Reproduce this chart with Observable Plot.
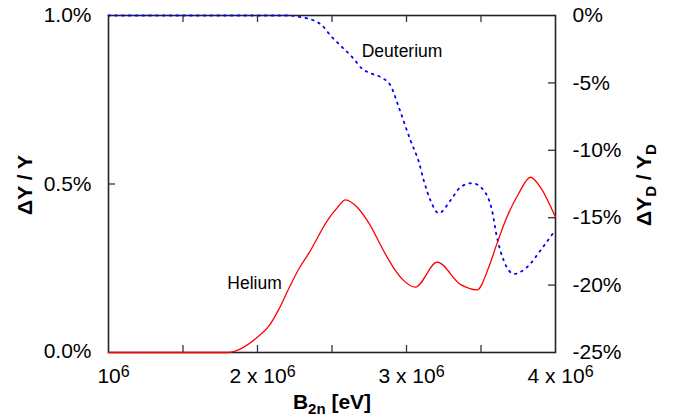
<!DOCTYPE html>
<html>
<head>
<meta charset="utf-8">
<script src="https://cdn.jsdelivr.net/npm/d3@7"></script>
<script src="https://cdn.jsdelivr.net/npm/@observablehq/plot@0.6"></script>
<style>
  html, body { margin: 0; padding: 0; background: #fff; }
  #chart svg { display: block; font-family: "Liberation Sans", Arial, Helvetica, sans-serif; }
</style>
</head>
<body>
<div id="chart"></div>
<script>
// ---- data ----
const xTickValues = [1e6, 2e6, 3e6, 4e6];
const xTickMarks = [1.5e6, 2e6, 2.5e6, 3e6, 3.5e6];
const leftTickValues = [0, 0.5, 1.0];          // ΔY/Y in %
const rightTickValues = [0, -5, -10, -15, -20, -25]; // ΔY_D/Y_D in %

const heliumB = [1.0e6, 1.5e6, 1.8e6, 1.85e6, 1.908e6, 1.998e6, 2.076e6, 2.143e6, 2.21e6, 2.28e6, 2.344e6, 2.47e6, 2.536e6, 2.59e6, 2.669e6, 2.736e6, 2.87e6, 2.926e6, 2.98e6, 3.06e6, 3.206e6, 3.362e6, 3.474e6, 3.552e6, 3.607e6, 3.674e6, 3.752e6, 3.832e6, 3.899e6, 4.0e6];
const heliumDY = [0, 0, 0, 0.004, 0.016, 0.045, 0.078, 0.128, 0.19, 0.25, 0.294, 0.392, 0.43, 0.453, 0.431, 0.392, 0.283, 0.243, 0.214, 0.194, 0.268, 0.202, 0.186, 0.253, 0.323, 0.402, 0.471, 0.520, 0.49, 0.401];

const deutB = [1.0e6, 2.2e6, 2.289e6, 2.378e6, 2.434e6, 2.49e6, 2.557e6, 2.636e6, 2.703e6, 2.77e6, 2.848e6, 2.893e6, 2.948e6, 3.027e6, 3.083e6, 3.116e6, 3.161e6, 3.217e6, 3.295e6, 3.362e6, 3.44e6, 3.519e6, 3.574e6, 3.607e6, 3.653e6, 3.72e6, 3.809e6, 3.899e6, 4.0e6];
const deutDY = [0, 0, -0.12, -0.37, -0.74, -1.48, -2.23, -3.09, -3.96, -4.33, -4.70, -5.19, -6.80, -9.27, -10.88, -12.24, -13.72, -14.67, -13.72, -12.74, -12.44, -12.98, -14.47, -16.45, -18.18, -19.17, -18.67, -17.43, -15.9];

const heliumLabel = [{text: "Helium", b: 1.98e6, v: 0.204}];
const deutLabel = [{text: "Deuterium", b: 2.97e6, v: -2.63}];

// ---- mapping the right axis (0% .. -25%) onto the left domain (1.0% .. 0.0%) ----
const rightToLeft = d => 1 + d / 25;

const helium = heliumB.map((b, i) => ({b, y: heliumDY[i]}));
const deut = deutB.map((b, i) => ({b, y: rightToLeft(deutDY[i])}));

const W = 673, H = 418;
const mL = 108, mR = 118, mT = 15, mB = 66;
const innerW = W - mL - mR, innerH = H - mT - mB;
const tickLen = 7;
const font = "\"Liberation Sans\", Arial, Helvetica, sans-serif";

const chart = Plot.plot({
  width: W, height: H,
  marginLeft: mL, marginRight: mR, marginTop: mT, marginBottom: mB,
  style: {fontFamily: font, fontSize: "21px", color: "#000", background: "#fff"},
  x: {type: "linear", domain: [1e6, 4e6]},
  y: {domain: [0, 1]},
  marks: [
    // frame
    Plot.frame({stroke: "#222", strokeWidth: 1.6}),
    // inward tick marks
    Plot.tickX(xTickMarks, {x: d => d, insetTop: innerH - tickLen, stroke: "#333", strokeWidth: 1.3}),
    Plot.tickX(xTickMarks, {x: d => d, insetBottom: innerH - tickLen, stroke: "#333", strokeWidth: 1.3}),
    Plot.tickY(leftTickValues.filter(v => v > 0 && v < 1), {y: d => d, insetRight: innerW - tickLen, stroke: "#333", strokeWidth: 1.3}),
    Plot.tickY(rightTickValues.filter(v => v < 0 && v > -25), {y: d => rightToLeft(d), insetLeft: innerW - tickLen, stroke: "#333", strokeWidth: 1.3}),
    // axes (labels only)
    Plot.axisX(xTickValues, {
      anchor: "bottom", tickSize: 0, tickPadding: 16,
      tickFormat: d => d === 1e6 ? "10" : `${d / 1e6} x 10`, label: null, fontSize: 21
    }),
    Plot.axisY(leftTickValues, {
      anchor: "left", tickSize: 0, tickPadding: 17,
      tickFormat: d => d.toFixed(1) + "%", label: null, fontSize: 21
    }),
    Plot.axisY(rightTickValues.map(rightToLeft), {
      anchor: "right", tickSize: 0, tickPadding: 17,
      tickFormat: d => `${Math.round((d - 1) * 25)}%`, label: null, fontSize: 21
    }),
    // curves
    Plot.line(deut, {x: "b", y: "y", stroke: "#0000ff", strokeWidth: 1.8, strokeDasharray: "1.6,5.2", curve: "monotone-x"}),
    Plot.line(helium, {x: "b", y: "y", stroke: "#ff0000", strokeWidth: 1.3, curve: "monotone-x"}),
    // curve labels
    Plot.text(heliumLabel, {x: "b", y: "v", text: "text", fontSize: 17.5, fill: "#000"}),
    Plot.text(deutLabel, {x: "b", y: d => rightToLeft(d.v), text: "text", fontSize: 17.5, fill: "#000"})
  ]
});

// superscript "6" on x tick labels
d3.select(chart).selectAll('g[aria-label="x-axis tick label"] text').each(function() {
  const t = d3.select(this);
  const base = t.text();
  t.text(null);
  t.append("tspan").text(base);
  t.append("tspan").attr("font-size", 16).attr("dy", "-0.42em").text("6");
  t.attr("dx", 5);
});
// shift "0.0%" slightly up, as in the reference
d3.select(chart).selectAll('g[aria-label="y-axis tick label"] text').each(function() {
  const t = d3.select(this);
  if (t.text() === "0.0%") t.attr("dy", "-0.05em");
});

const svg = d3.select(chart);
// left axis title
svg.append("text")
  .attr("transform", "translate(32,185) rotate(-90)")
  .attr("text-anchor", "middle").attr("font-weight", "bold").attr("font-size", 21)
  .attr("font-family", font)
  .text("\u0394Y / Y");
// right axis title
const rt = svg.append("text")
  .attr("transform", "translate(651,185) rotate(-90)")
  .attr("text-anchor", "middle").attr("font-weight", "bold").attr("font-size", 21)
  .attr("font-family", font);
rt.append("tspan").text("\u0394Y");
rt.append("tspan").attr("font-size", 15).attr("dy", 5).text("D");
rt.append("tspan").attr("dy", -5).text(" / Y");
rt.append("tspan").attr("font-size", 15).attr("dy", 5).text("D");
// bottom axis title
const bt = svg.append("text")
  .attr("x", 332).attr("y", 409)
  .attr("text-anchor", "middle").attr("font-weight", "bold").attr("font-size", 21)
  .attr("font-family", font);
bt.append("tspan").text("B");
bt.append("tspan").attr("font-size", 15).attr("dy", 4.5).text("2n");
bt.append("tspan").attr("dy", -4.5).text(" [eV]");

document.getElementById("chart").appendChild(chart);
</script>
</body>
</html>
